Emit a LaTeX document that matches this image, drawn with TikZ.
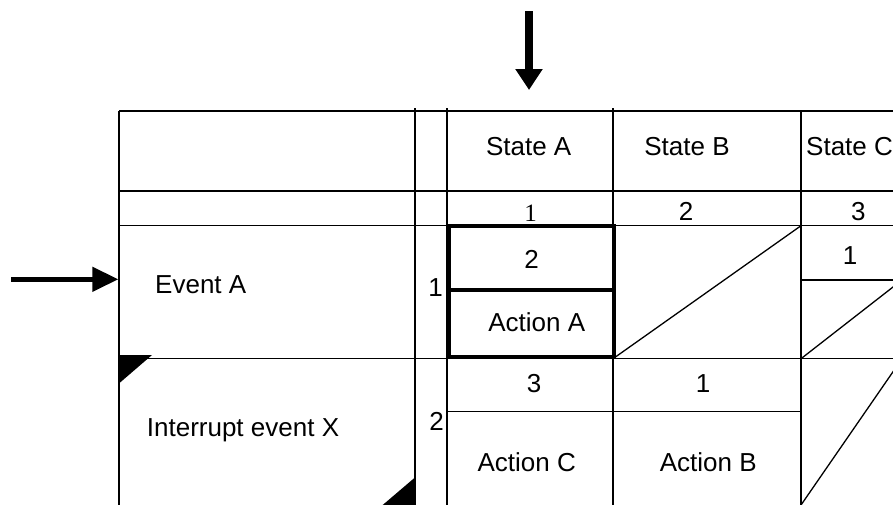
\documentclass[tikz,border=0pt]{standalone}
\usepackage{fontspec}
\setmainfont{Liberation Sans}
\newfontfamily\serifdigits{Liberation Serif}
\usetikzlibrary{arrows.meta}
\begin{document}
\begin{tikzpicture}[x=1pt,y=-1pt,
  grid/.style={line width=1.3pt},
  heavy/.style={line width=4pt},
  lbl/.style={inner sep=0pt, anchor=base, font=\fontsize{26}{30}\selectfont},
  lblw/.style={lbl, anchor=base west},
  corner/.style={fill=black}]
\useasboundingbox (0,0) rectangle (893,504);
\clip (0,0) rectangle (893,504);

% horizontal rules of the state table
\draw[grid] (119,111) -- (910,111);
\draw[grid] (119,191) -- (910,191);
\draw[grid] (119,225.7) -- (910,225.7);
\draw[grid] (119,358.7) -- (910,358.7);
\draw[grid] (447,411.7) -- (801,411.7);
\draw[grid] (801,280) -- (910,280);

% vertical rules
\draw[grid] (119,111) -- (119,510);
\draw[grid] (415,108) -- (415,510);
\draw[grid] (447,108) -- (447,510);
\draw[grid] (613,108) -- (613,510);
\draw[grid] (801,111) -- (801,510);

% struck-out (impossible) cells
\draw[grid] (613,358.7) -- (801,225.7);
\draw[grid] (801,358.7) -- (902,280);
\draw[grid] (801,505) -- (902,358.7);

% highlighted transition cell
\draw[heavy] (448.7,225.5) rectangle (613.7,356.7);
\draw[heavy] (448.7,289.7) -- (613.7,289.7);

% corner marks of the interrupt row
\fill[corner] (118,355) -- (152,355) -- (118,384.3) -- cycle;
\fill[corner] (415.5,477) -- (415.5,506) -- (381.5,506) -- cycle;

% current state / incoming event pointers
\coordinate (topTail) at (529,11);
\coordinate (topTip) at (529,90);
\draw[-{Triangle[length=21pt,width=26pt]}, line width=8.3pt] (topTail) -- (topTip);
\coordinate (leftTail) at (11,279.3);
\coordinate (leftTip) at (118.3,279.3);
\draw[-{Triangle[length=26pt,width=24pt]}, line width=5pt] (leftTail) -- (leftTip);

% header row
\node[lbl] (stA) at (528.7,155) {State A};
\node[lbl] (stB) at (687,155) {State B};
\node[lblw] (stC) at (806,155) {State C};
\node[lbl, font=\serifdigits\fontsize{25}{29}\selectfont] (numA) at (530.7,221.7) {1};
\node[lbl] (numB) at (686,220) {2};
\node[lbl] (numC) at (858.3,220) {3};

% event A row
\node[lblw] (evA) at (155,293.5) {Event A};
\node[lbl] (row1) at (435.5,296) {1};
\node[lbl] (nextA1) at (531.7,268.3) {2};
\node[lbl] (actA1) at (536.7,331.7) {Action A};
\node[lbl] (nextC1) at (850,264) {1};

% interrupt row
\node[lblw] (evX) at (146.7,436.7) {Interrupt event X};
\node[lbl] (row2) at (436.7,430.7) {2};
\node[lbl] (nextA2) at (534,392.3) {3};
\node[lbl] (nextB2) at (703,392.3) {1};
\node[lbl] (actA2) at (526.7,471.7) {Action C};
\node[lbl] (actB2) at (708.3,471.7) {Action B};
\end{tikzpicture}
\end{document}
